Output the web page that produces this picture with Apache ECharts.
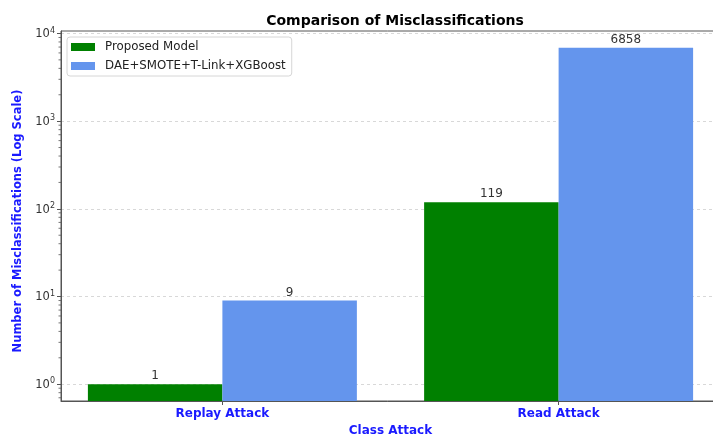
<!DOCTYPE html>
<html>
<head>
<meta charset="utf-8">
<style>
  html, body { margin: 0; padding: 0; background: #fff; }
  #chart { width: 713px; height: 435px; }
</style>
<script src="https://cdn.jsdelivr.net/npm/echarts@6/dist/echarts.min.js"></script>
</head>
<body>
<div id="chart"></div>
<script>
// Misclassification counts per attack class
const categories = ['Replay Attack', 'Read Attack'];
const seriesNames = ['Proposed Model', 'DAE+SMOTE+T-Link+XGBoost'];
const proposedCounts = [1, 119];
const baselineCounts = [9, 6858];

// Log-axis ticks
const yMajorTicks = [1, 10, 100, 1000, 10000];
const yMinorTicks = [0.7, 0.8, 0.9,
  2, 3, 4, 5, 6, 7, 8, 9,
  20, 30, 40, 50, 60, 70, 80, 90,
  200, 300, 400, 500, 600, 700, 800, 900,
  2000, 3000, 4000, 5000, 6000, 7000, 8000, 9000];
const yMin = 0.643;
const yMax = 10670;

const FONT = 'DejaVu Sans';

const chart = echarts.init(document.getElementById('chart'), null, { renderer: 'canvas' });

const option = {
  animation: false,
  backgroundColor: '#ffffff',
  title: {
    text: 'Comparison of Misclassifications',
    left: 390,
    textAlign: 'center',
    top: 9,
    textStyle: { fontFamily: FONT, fontWeight: 'bold', fontSize: 14, color: '#000' }
  },
  legend: {
    data: seriesNames,
    orient: 'vertical',
    left: 67,
    top: 37,
    icon: 'rect',
    itemWidth: 24,
    itemHeight: 8,
    itemGap: 7,
    padding: [4, 6, 4, 4],
    borderColor: '#d6d6d6',
    borderWidth: 1,
    borderRadius: 3,
    backgroundColor: 'rgba(255,255,255,0.8)',
    textStyle: { fontFamily: FONT, fontSize: 11.8, color: '#222', padding: [0, 0, 0, 5] }
  },
  grid: {
    left: 61,
    right: -7,
    top: 31,
    bottom: 34,
    outerBoundsMode: 'none',
    show: true,
    borderColor: '#555',
    borderWidth: 1,
    containLabel: false
  },
  xAxis: {
    type: 'value',
    min: -0.48,
    max: 1.48,
    name: 'Class Attack',
    nameLocation: 'middle',
    nameGap: 24,
    nameTextStyle: { fontFamily: FONT, fontWeight: 'bold', fontSize: 12, color: '#1a1aff' },
    axisLine: { show: true, onZero: false, lineStyle: { color: '#555', width: 1 } },
    axisTick: { show: true, customValues: [0, 1], length: 4, lineStyle: { color: '#555' } },
    axisLabel: {
      customValues: [0, 1],
      margin: 7,
      fontFamily: FONT, fontWeight: 'bold', fontSize: 12, color: '#1a1aff',
      formatter: v => categories[Math.round(v)] || ''
    },
    splitLine: { show: false }
  },
  yAxis: {
    type: 'log',
    logBase: 10,
    min: yMin,
    max: yMax,
    startValue: yMin,
    name: 'Number of Misclassifications (Log Scale)',
    nameLocation: 'middle',
    nameGap: 37,
    nameTextStyle: { fontFamily: FONT, fontWeight: 'bold', fontSize: 11.5, color: '#1a1aff', padding: [0, 10, 0, 0] },
    axisLine: { show: true, onZero: false, lineStyle: { color: '#555', width: 1 } },
    axisTick: { show: true, customValues: yMajorTicks, length: 4, lineStyle: { color: '#555' } },
    axisLabel: {
      customValues: yMajorTicks,
      margin: 6,
      formatter: v => {
        const e = Math.round(Math.log10(v));
        return '{b|10}{s|' + e + '}';
      },
      rich: {
        b: { fontFamily: FONT, fontSize: 11.5, color: '#333', verticalAlign: 'bottom' },
        s: { fontFamily: FONT, fontSize: 8, color: '#333', verticalAlign: 'top', padding: [0, 0, 6, 0] }
      }
    },
    splitLine: {
      show: true,
      lineStyle: { color: '#cfcfcf', width: 0.8, type: [3, 3] }
    }
  },
  series: [
    {
      name: seriesNames[0],
      type: 'bar',
      barWidth: '40%',
      barGap: '0%',
      itemStyle: { color: '#008000' },
      label: {
        show: true, position: 'top', distance: 2,
        fontFamily: FONT, fontSize: 12, color: '#333'
      },
      data: proposedCounts.map((v, i) => [i, v])
    },
    {
      name: seriesNames[1],
      type: 'bar',
      barWidth: '40%',
      barGap: '0%',
      itemStyle: { color: '#6495ed' },
      label: {
        show: true, position: 'top', distance: 2,
        fontFamily: FONT, fontSize: 12, color: '#333'
      },
      data: baselineCounts.map((v, i) => [i, v])
    },
    {
      // minor tick marks of the log axis
      name: 'minorTicks',
      type: 'custom',
      silent: true,
      clip: false,
      data: yMinorTicks.map(v => [0, v]),
      renderItem: (params, api) => {
        const y = api.coord([0, api.value(1)])[1];
        const x = params.coordSys.x;
        return {
          type: 'line',
          shape: { x1: x - 2.5, y1: y, x2: x, y2: y },
          style: { stroke: '#555', lineWidth: 0.8 }
        };
      }
    }
  ]
};

chart.setOption(option);
</script>
</body>
</html>
